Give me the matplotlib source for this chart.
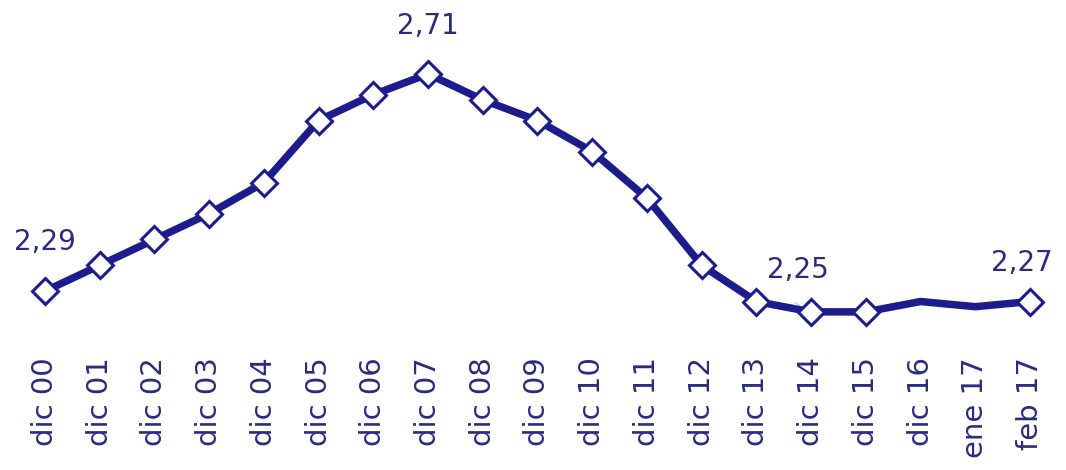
import matplotlib.pyplot as plt

periods = ["dic 00", "dic 01", "dic 02", "dic 03", "dic 04", "dic 05", "dic 06",
           "dic 07", "dic 08", "dic 09", "dic 10", "dic 11", "dic 12", "dic 13",
           "dic 14", "dic 15", "dic 16", "ene 17", "feb 17"]
values = [2.29, 2.34, 2.39, 2.44, 2.50, 2.62, 2.67, 2.71, 2.66, 2.62,
          2.56, 2.47, 2.34, 2.27, 2.25, 2.25, 2.27, 2.26, 2.27]
# points that get a diamond marker
marked = list(range(16)) + [18]
# points with a value label
labelled = [0, 7, 14, 18]

navy = "#1c1c8c"
text_col = "#2b2b7e"

fig = plt.figure(figsize=(10.66, 4.70), dpi=100)
ax = fig.add_axes([0, 0.255, 1, 0.745])

x = list(range(len(values)))
ax.plot(x, values, color=navy, lw=5.4, solid_joinstyle="round",
        marker="D", markevery=marked, markersize=13,
        markerfacecolor="white", markeredgecolor=navy, markeredgewidth=2.2,
        zorder=3)

offsets = {0: (0, 0.095), 7: (0, 0.092), 14: (-0.25, 0.08), 18: (-0.15, 0.075)}
for i in labelled:
    dx, dy = offsets[i]
    ax.text(i + dx, values[i] + dy, f"{values[i]:.2f}".replace(".", ","),
            ha="center", va="center", fontsize=20, color=text_col)

# faint leader line for the 2,25 label
ax.plot([13.7, 13.95], [2.268, 2.252], color="#9a9ac8", lw=0.8, alpha=0.6,
        zorder=2)

ax.set_xlim(-0.822, 18.658)
ax.set_ylim(2.176, 2.853)
ax.set_xticks(x)
ax.set_xticklabels(periods, rotation=90, fontsize=21, color=text_col,
                   va="top")
ax.tick_params(axis="x", length=0, pad=5)
ax.set_yticks([])
for s in ax.spines.values():
    s.set_visible(False)

fig.savefig("out.png", dpi=100)
